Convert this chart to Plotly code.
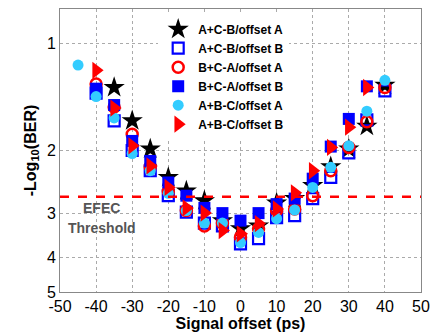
import plotly.graph_objects as go
import math

# ---- data ----
x_s1 = [-35, -30, -25, -20, -15, -10, -5, 0, 5, 10, 15, 20, 25, 30, 35, 40]
y_s1 = [1.33, 1.65, 1.98, 2.38, 2.60, 2.77, 3.15, 3.32, 3.26, 2.81, 2.73, 2.51, 2.22, 1.98, 1.71, 1.31]

x_s2 = [-40, -35, -30, -25, -20, -15, -10, -5, 0, 5, 10, 15, 20, 25, 30, 35, 40]
y_s2 = [1.38, 1.65, 2.00, 2.28, 2.68, 2.98, 3.20, 3.26, 3.66, 3.54, 3.09, 3.05, 2.73, 2.38, 2.03, 1.64, 1.36]

x_s3 = [-40, -35, -30, -25, -20, -15, -10, -5, 0, 5, 10, 15, 20, 25, 30, 35, 40]
y_s3 = [1.30, 1.51, 1.80, 2.22, 2.60, 2.95, 3.26, 3.20, 3.50, 3.32, 2.95, 2.92, 2.68, 2.28, 1.96, 1.66, 1.33]

x_s4 = [-40, -35, -30, -25, -20, -15, -10, -5, 0, 5, 10, 15, 20, 25, 30, 35]
y_s4 = [1.34, 1.49, 1.88, 2.14, 2.46, 2.68, 2.90, 3.00, 3.15, 3.00, 2.83, 2.73, 2.40, 1.95, 1.63, 1.32]

x_s5 = [-45, -40, -35, -30, -25, -20, -15, -10, -5, 0, 5, 10, 15, 20, 25, 30, 35, 40]
y_s5 = [1.15, 1.41, 1.62, 2.04, 2.28, 2.64, 2.95, 3.20, 3.20, 3.63, 3.40, 3.11, 2.94, 2.54, 2.23, 1.94, 1.55, 1.27]

x_s6 = [-40, -35, -30, -25, -20, -15, -10, -5, 0, 5, 10, 15, 20, 25, 30, 35]
y_s6 = [1.19, 1.52, 1.94, 2.21, 2.54, 2.90, 3.00, 3.36, 3.43, 3.21, 2.92, 2.63, 2.28, 1.96, 1.72, 1.33]

names = ["A+C-B/offset A", "A+C-B/offset B", "B+C-A/offset A",
         "B+C-A/offset B", "A+B-C/offset A", "A+B-C/offset B"]

threshold = 2.7
x_ticks = [-50, -40, -30, -20, -10, 0, 10, 20, 30, 40, 50]
y_ticks = [1, 2, 3, 4, 5]

styles = [
    dict(symbol="star", size=16, color="black", line=dict(width=0)),
    dict(symbol="square-open", size=11, color="#0000ff", line=dict(width=2.2, color="#0000ff")),
    dict(symbol="circle-open", size=11, color="#ff0000", line=dict(width=2.5, color="#ff0000")),
    dict(symbol="square", size=12, color="#0000ff", line=dict(width=0)),
    dict(symbol="circle", size=11, color="#33ccff", line=dict(width=0)),
    dict(symbol="triangle-right", size=15, color="#ff0000", line=dict(width=0)),
]

FONT = "Liberation Sans, Arial"

fig = go.Figure()
series = [(x_s1, y_s1), (x_s2, y_s2), (x_s3, y_s3), (x_s4, y_s4), (x_s5, y_s5), (x_s6, y_s6)]
for (xs, ys), nm, st in zip(series, names, styles):
    fig.add_trace(go.Scatter(x=xs, y=ys, mode="markers", name="<b>" + nm + "</b>", marker=st))

fig.add_shape(type="line", xref="paper", yref="y", x0=0, x1=1, y0=threshold, y1=threshold,
              line=dict(color="#ff0000", width=2.5, dash="dash"), layer="above")

fig.add_annotation(x=-38.5, y=math.log10(2.9), xref="x", yref="y", text="<b>EFEC</b>",
                   showarrow=False, font=dict(family=FONT, size=14, color="#555555"))
fig.add_annotation(x=-38.5, y=math.log10(3.3), xref="x", yref="y", text="<b>Threshold</b>",
                   showarrow=False, font=dict(family=FONT, size=14, color="#555555"))

fig.update_layout(
    width=430, height=336,
    margin=dict(l=60, r=9, t=9, b=44, autoexpand=False),
    plot_bgcolor="white", paper_bgcolor="white",
    font=dict(family=FONT, size=15, color="black"),
    legend=dict(x=0.272, y=0.98, xanchor="left", yanchor="top",
                bgcolor="white", borderwidth=0,
                font=dict(family=FONT, size=12, color="black"),
                tracegroupgap=0, itemwidth=30),
    showlegend=True,
)
fig.update_xaxes(range=[-50, 50], tickvals=x_ticks, ticktext=[str(v) for v in x_ticks],
                 showgrid=True, gridcolor="#aaaaaa", griddash="dot", gridwidth=1,
                 showline=True, linecolor="#888888", linewidth=1, mirror=True,
                 ticks="", zeroline=False, automargin=False,
                 title=dict(text="<b>Signal offset (ps)</b>", font=dict(size=16), standoff=3),
                 tickfont=dict(size=16))
fig.update_yaxes(type="log", range=[math.log10(5), math.log10(0.8)],
                 tickvals=y_ticks, ticktext=[str(v) for v in y_ticks],
                 showgrid=True, gridcolor="#aaaaaa", griddash="dot", gridwidth=1,
                 showline=True, linecolor="#888888", linewidth=1, mirror=True,
                 ticks="", zeroline=False, automargin=False,
                 title=dict(text="<b>-Log<sub>10</sub>(BER)</b>", font=dict(size=16), standoff=6),
                 tickfont=dict(size=16))

fig.write_html("out.html", config={"displayModeBar": False},
               post_script="document.body.style.margin='0';document.body.style.padding='0';")
